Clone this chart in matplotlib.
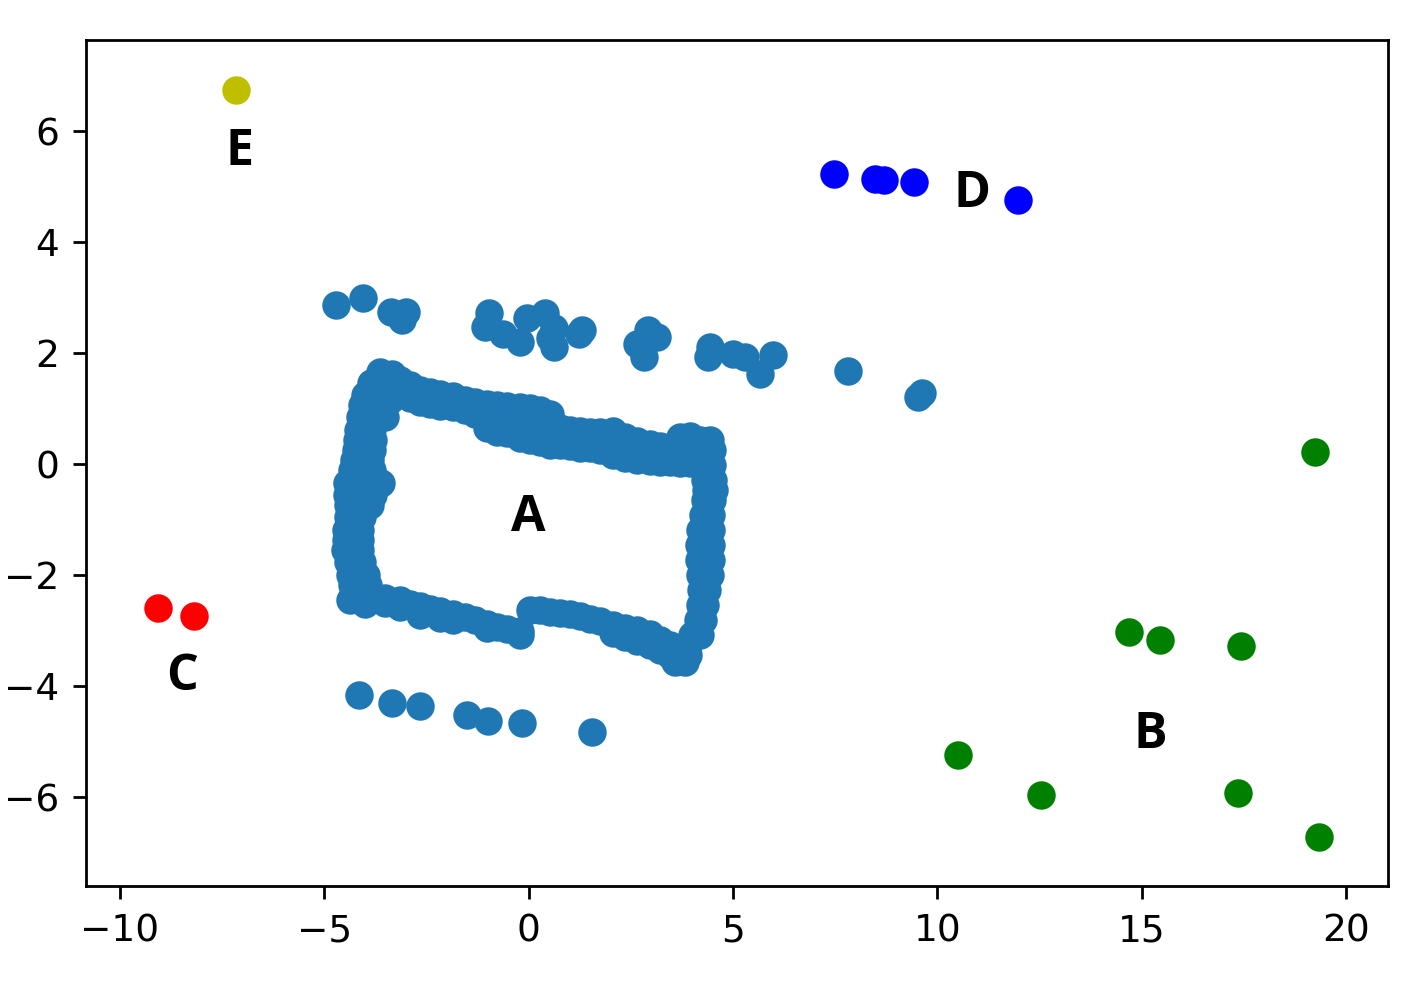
import matplotlib
matplotlib.use("Agg")
import matplotlib.pyplot as plt

# cluster A: outline of the box (top, right, bottom, left) plus the loose points around it
a_box_x = [
    -3.63, -3.34, -3.14, -3.51, -3.85, -3.63, -3.39, -3.63,
    -2.90, -2.90, -2.65, -2.65, -2.41, -2.41, -2.17, -2.17, -1.85, -1.85,
    -1.55, -1.55, -1.31, -1.31, -1.02, -1.02, -1.02, -0.77, -0.77, -0.77,
    -0.53, -0.53, -0.53, -0.21, -0.21, -0.21, 0.04, 0.04, 0.04, 0.28, 0.28, 0.28,
    0.53, 0.53, 0.53, 0.77, 0.77, 1.02, 1.02, 1.26, 1.26, 1.50, 1.50, 1.75, 1.75,
    2.07, 2.07, 2.07, 2.36, 2.36, 2.65, 2.65, 2.97, 2.97, 3.21, 3.21, 3.46, 3.46,
    3.71, 3.71, 3.71, 3.95, 3.95, 3.95,
    4.20, 4.44, 4.20, 4.49, 4.25, 4.49, 4.32, 4.51, 4.35, 4.54, 4.32, 4.49,
    4.27, 4.47, 4.20, 4.47, 4.17, 4.47, 4.17, 4.47, 4.20, 4.44, 4.22, 4.37,
    4.20, 4.32, 4.15, 4.27, 4.00, 4.20, 3.90, 3.71, 3.90, 3.58, 3.83,
    0.04, 0.28, 0.53, 0.77, 1.02, 1.26, 1.50, 1.75, 2.07, 2.07, 2.36, 2.36,
    2.65, 2.65, 2.97, 2.97, 3.21, 3.21, 3.46, 3.46,
    -4.37, -4.00, -4.00, -3.76, -3.51, -3.51, -3.14, -3.14, -2.90, -2.65, -2.65,
    -2.41, -2.17, -2.17, -1.85, -1.85, -1.55, -1.31, -1.02, -1.02, -0.77, -0.53,
    -0.21, -0.21,
    -4.00, -3.68, -4.07, -3.73, -4.12, -3.83, -3.51, -4.17, -3.83, -4.20, -3.80,
    -4.22, -3.83, -4.27, -3.88, -4.32, -3.83, -4.44, -4.05, -3.61, -4.44, -4.12,
    -3.80, -4.42, -4.07, -3.88, -4.42, -4.07, -4.47, -4.12, -4.47, -4.12, -4.49,
    -4.12, -4.42, -4.07, -4.37, -3.98, -4.32, -3.93, -4.25, -3.93,
]
a_box_y = [
    1.66, 1.62, 1.51, 1.42, 1.46, 1.35, 1.15, 1.10,
    1.42, 1.19, 1.33, 1.12, 1.30, 1.08, 1.26, 1.05, 1.22, 1.03,
    1.15, 0.97, 1.12, 0.90, 1.08, 0.83, 0.65, 1.06, 0.79, 0.58,
    1.04, 0.76, 0.56, 1.03, 0.76, 0.47, 1.01, 0.70, 0.43, 0.97, 0.65, 0.40,
    0.90, 0.61, 0.34, 0.65, 0.34, 0.61, 0.32, 0.59, 0.29, 0.58, 0.29, 0.58, 0.25,
    0.59, 0.36, 0.16, 0.49, 0.11, 0.41, 0.07, 0.36, 0.05, 0.32, 0.04, 0.31, 0.04,
    0.49, 0.25, 0.02, 0.50, 0.22, 0.02,
    0.43, 0.43, 0.25, 0.25, -0.02, -0.02, -0.29, -0.29, -0.47, -0.47, -0.65, -0.65,
    -0.92, -0.92, -1.19, -1.19, -1.46, -1.46, -1.73, -1.73, -2.00, -2.00, -2.27, -2.27,
    -2.54, -2.54, -2.81, -2.81, -3.08, -3.08, -3.26, -3.44, -3.44, -3.57, -3.57,
    -2.63, -2.63, -2.67, -2.68, -2.70, -2.74, -2.79, -2.83, -2.90, -3.05, -2.95, -3.12,
    -2.99, -3.19, -3.06, -3.26, -3.17, -3.35, -3.26, -3.44,
    -2.45, -2.52, -2.40, -2.42, -2.42, -2.50, -2.45, -2.58, -2.52, -2.56, -2.72,
    -2.61, -2.65, -2.77, -2.70, -2.81, -2.76, -2.81, -2.88, -2.95, -2.94, -2.97,
    -3.01, -3.08,
    1.24, 1.24, 1.06, 1.06, 0.85, 0.85, 0.85, 0.61, 0.61, 0.43, 0.43,
    0.25, 0.25, 0.07, 0.07, -0.11, -0.11, -0.34, -0.34, -0.34, -0.56, -0.56,
    -0.56, -0.74, -0.74, -0.74, -0.95, -0.95, -1.19, -1.19, -1.37, -1.37, -1.55,
    -1.55, -1.77, -1.77, -2.00, -2.00, -2.18, -2.18, -2.36, -2.36,
]

a_loose_x = [-4.72, -4.06, -3.36, -3.00, -3.10, -0.96, -1.06, -0.62, -0.21, -0.03,
             0.40, 0.61, 0.53, 0.61, 1.30, 1.24, 2.93, 3.14, 2.65, 2.81,
             4.44, 4.40, 5.01, 5.30, 5.66, 5.99, 7.82, 9.53, 9.63,
             -4.15, -3.34, -2.67, -1.51, -1.00, -0.17, 1.56]
a_loose_y = [2.86, 3.00, 2.74, 2.74, 2.59, 2.72, 2.47, 2.35, 2.20, 2.64,
             2.72, 2.45, 2.27, 2.11, 2.41, 2.34, 2.41, 2.29, 2.17, 1.93,
             2.11, 1.93, 1.99, 1.93, 1.63, 1.96, 1.68, 1.21, 1.28,
             -4.16, -4.31, -4.36, -4.52, -4.63, -4.67, -4.83]

b_x = [19.24, 14.69, 15.45, 17.42, 10.50, 12.53, 17.36, 19.35]
b_y = [0.21, -3.02, -3.16, -3.28, -5.24, -5.97, -5.93, -6.72]

c_x = [-9.08, -8.18]
c_y = [-2.60, -2.74]

d_x = [7.48, 8.48, 8.70, 9.43, 11.98]
d_y = [5.23, 5.14, 5.12, 5.08, 4.76]

e_x = [-7.16]
e_y = [6.74]

labels = ["A", "B", "C", "D", "E"]
label_x = [-0.02, 15.22, -8.49, 10.85, -7.07]
label_y = [-1.21, -5.12, -4.07, 4.63, 5.39]

fig = plt.figure(figsize=(14.04, 9.83), dpi=100)
ax = fig.add_axes([0.0613, 0.0987, 0.9274, 0.8606])

size = 420
ax.scatter(a_box_x + a_loose_x, a_box_y + a_loose_y, s=size, color="#1f77b4", linewidths=0)
ax.scatter(b_x, b_y, s=size, color="g", linewidths=0)
ax.scatter(c_x, c_y, s=size, color="r", linewidths=0)
ax.scatter(d_x, d_y, s=size, color="b", linewidths=0)
ax.scatter(e_x, e_y, s=size, color="y", linewidths=0)

for lab, lx, ly in zip(labels, label_x, label_y):
    ax.text(lx, ly, lab, ha="center", va="baseline", fontsize=36,
            fontweight="bold", family=["Open Sans", "DejaVu Sans"])

ax.set_xlim(-10.83, 21.03)
ax.set_ylim(-7.60, 7.64)
ax.set_xticks([-10, -5, 0, 5, 10, 15, 20])
ax.set_yticks([-6, -4, -2, 0, 2, 4, 6])
ax.tick_params(labelsize=27, length=9.5, width=2, pad=10)
for sp in ax.spines.values():
    sp.set_linewidth(2)

fig.savefig("out.png", dpi=100)
